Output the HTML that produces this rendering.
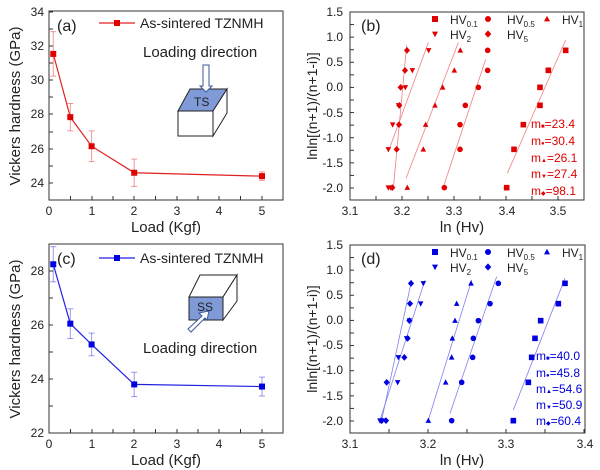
<!DOCTYPE html>
<html><head><meta charset="utf-8"><style>
html,body{margin:0;padding:0;background:#fff;}
svg{display:block;font-family:"Liberation Sans",Arial,sans-serif;}
</style></head><body>
<svg id="s" width="600" height="470" viewBox="0 0 600 470" xmlns="http://www.w3.org/2000/svg">
<!-- Panel a -->
<rect x="49" y="11" width="234" height="189" fill="none" stroke="#333" stroke-width="1"/>
<g font-size="12" fill="#222" text-anchor="end">
<text x="44" y="16">34</text><text x="44" y="50">32</text><text x="44" y="84">30</text><text x="44" y="118">28</text><text x="44" y="153">26</text><text x="44" y="187">24</text>
</g>
<g font-size="12" fill="#222" text-anchor="middle">
<text x="49" y="215">0</text><text x="92" y="215">1</text><text x="134" y="215">2</text><text x="177" y="215">3</text><text x="219" y="215">4</text><text x="262" y="215">5</text>
</g>
<text x="166" y="232" font-size="15" text-anchor="middle" fill="#222">Load (Kgf)</text>
<text transform="translate(20,106) rotate(-90)" font-size="15" text-anchor="middle" fill="#222">Vickers hardness (GPa)</text>
<text x="57" y="31" font-size="16" fill="#222">(a)</text>
<line x1="99" y1="23" x2="135" y2="23" stroke="#e02020" stroke-width="1.2"/><rect x="114" y="20" width="6" height="6" fill="#e00000"/>
<text x="140" y="28" font-size="14" fill="#222">As-sintered TZNMH</text>
<text x="143" y="57" font-size="15" fill="#222">Loading direction</text>
<polygon points="178,111 190,89 227,89 213,111" fill="#7f9ad6" stroke="#222"/>
<rect x="178" y="111" width="35" height="25" fill="#fff" stroke="#222"/>
<polygon points="213,111 227,89 227,113 213,136" fill="#fff" stroke="#222"/>
<text x="194" y="106" font-size="12" fill="#222">TS</text>
<polygon points="203,65 209,65 209,86 212,86 206,92 200,86 203,86" fill="#fff" stroke="#3d5a9a" stroke-width="1"/>
<!-- Panel c -->
<rect x="49" y="244" width="234" height="189" fill="none" stroke="#333" stroke-width="1"/>
<g font-size="12" fill="#222" text-anchor="end">
<text x="44" y="275">28</text><text x="44" y="329">26</text><text x="44" y="383">24</text><text x="44" y="437">22</text>
</g>
<g font-size="12" fill="#222" text-anchor="middle">
<text x="49" y="448">0</text><text x="92" y="448">1</text><text x="134" y="448">2</text><text x="177" y="448">3</text><text x="219" y="448">4</text><text x="262" y="448">5</text>
</g>
<text x="166" y="465" font-size="15" text-anchor="middle" fill="#222">Load (Kgf)</text>
<text transform="translate(20,339) rotate(-90)" font-size="15" text-anchor="middle" fill="#222">Vickers hardness (GPa)</text>
<text x="57" y="264" font-size="16" fill="#222">(c)</text>
<line x1="99" y1="258" x2="135" y2="258" stroke="#2020e0" stroke-width="1.2"/><rect x="114" y="255" width="6" height="6" fill="#0000e0"/>
<text x="140" y="263" font-size="14" fill="#222">As-sintered TZNMH</text>
<polygon points="189,297 200,275 237,275 223,297" fill="#fff" stroke="#222"/>
<rect x="189" y="297" width="34" height="23" fill="#7f9ad6" stroke="#222"/>
<polygon points="223,297 237,275 237,301 223,320" fill="#fff" stroke="#222"/>
<text x="197" y="311" font-size="12" fill="#222">SS</text>
<polygon points="188,329 202,316 199,313 209,311 207,320 205,318 191,332" fill="#fff" stroke="#3d5a9a"/>
<text x="143" y="353" font-size="15" fill="#222">Loading direction</text>
<!-- Panel b -->
<rect x="350" y="12" width="234" height="188" fill="none" stroke="#333" stroke-width="1"/>
<g font-size="12" fill="#222" text-anchor="end">
<text x="343" y="16">1.5</text><text x="343" y="41">1.0</text><text x="343" y="66">0.5</text><text x="343" y="91">0.0</text><text x="343" y="117">-0.5</text><text x="343" y="142">-1.0</text><text x="343" y="167">-1.5</text><text x="343" y="192">-2.0</text>
</g>
<g font-size="12" fill="#222" text-anchor="middle">
<text x="350" y="215">3.1</text><text x="402" y="215">3.2</text><text x="454" y="215">3.3</text><text x="507" y="215">3.4</text><text x="558" y="215">3.5</text>
</g>
<text x="462" y="232" font-size="15" text-anchor="middle" fill="#222">ln (Hv)</text>
<text transform="translate(317,106) rotate(-90)" font-size="14" text-anchor="middle" fill="#222">lnln[(n+1)/(n+1-i)]</text>
<text x="361" y="31" font-size="16" fill="#222">(b)</text>
<g font-size="12" fill="#e00000">
<text x="531" y="128">m<tspan font-size="6">■</tspan>=23.4</text>
<text x="531" y="145">m<tspan font-size="6">●</tspan>=30.4</text>
<text x="531" y="162">m<tspan font-size="6">▲</tspan>=26.1</text>
<text x="531" y="178">m<tspan font-size="6">▼</tspan>=27.4</text>
<text x="531" y="195">m<tspan font-size="6">◆</tspan>=98.1</text>
</g>
<g font-size="12" fill="#222">
<text x="450" y="24">HV<tspan font-size="8" dy="3">0.1</tspan></text>
<text x="507" y="24">HV<tspan font-size="8" dy="3">0.5</tspan></text>
<text x="562" y="24">HV<tspan font-size="8" dy="3">1</tspan></text>
<text x="450" y="39">HV<tspan font-size="8" dy="3">2</tspan></text>
<text x="507" y="39">HV<tspan font-size="8" dy="3">5</tspan></text>
</g>
<!-- Panel d -->
<rect x="350" y="245" width="235" height="188" fill="none" stroke="#333" stroke-width="1"/>
<g font-size="12" fill="#222" text-anchor="end">
<text x="343" y="249">1.5</text><text x="343" y="274">1.0</text><text x="343" y="299">0.5</text><text x="343" y="324">0.0</text><text x="343" y="349">-0.5</text><text x="343" y="374">-1.0</text><text x="343" y="400">-1.5</text><text x="343" y="425">-2.0</text>
</g>
<g font-size="12" fill="#222" text-anchor="middle">
<text x="350" y="448">3.1</text><text x="428" y="448">3.2</text><text x="506" y="448">3.3</text><text x="585" y="448">3.4</text>
</g>
<text x="462" y="465" font-size="15" text-anchor="middle" fill="#222">ln (Hv)</text>
<text transform="translate(317,339) rotate(-90)" font-size="14" text-anchor="middle" fill="#222">lnln[(n+1)/(n+1-i)]</text>
<text x="361" y="264" font-size="16" fill="#222">(d)</text>
<g font-size="12" fill="#0000e0">
<text x="536" y="360">m<tspan font-size="6">■</tspan>=40.0</text>
<text x="536" y="377">m<tspan font-size="6">●</tspan>=45.8</text>
<text x="536" y="393">m<tspan font-size="6">▲</tspan>=54.6</text>
<text x="536" y="409">m<tspan font-size="6">▼</tspan>=50.9</text>
<text x="536" y="425">m<tspan font-size="6">◆</tspan>=60.4</text>
</g>
<g font-size="12" fill="#222">
<text x="450" y="257">HV<tspan font-size="8" dy="3">0.1</tspan></text>
<text x="507" y="257">HV<tspan font-size="8" dy="3">0.5</tspan></text>
<text x="562" y="257">HV<tspan font-size="8" dy="3">1</tspan></text>
<text x="450" y="272">HV<tspan font-size="8" dy="3">2</tspan></text>
<text x="507" y="272">HV<tspan font-size="8" dy="3">5</tspan></text>
</g>
<g id="dyn"></g>
</svg>
<script>
var NS="http://www.w3.org/2000/svg",g=document.getElementById("dyn");
function el(t,a){var e=document.createElementNS(NS,t);for(var k in a)e.setAttribute(k,a[k]);g.appendChild(e);return e;}
function mk(type,x,y,c,s){s=s||3;
 if(type=="s")el("rect",{x:x-s,y:y-s,width:2*s,height:2*s,fill:c});
 else if(type=="c")el("circle",{cx:x,cy:y,r:s,fill:c});
 else if(type=="u")el("polygon",{points:(x-s)+","+(y+s*0.8)+" "+(x+s)+","+(y+s*0.8)+" "+x+","+(y-s*1.1),fill:c});
 else if(type=="d")el("polygon",{points:(x-s)+","+(y-s*0.8)+" "+(x+s)+","+(y-s*0.8)+" "+x+","+(y+s*1.1),fill:c});
 else if(type=="r")el("polygon",{points:x+","+(y-s*1.2)+" "+(x+s*1.1)+","+y+" "+x+","+(y+s*1.2)+" "+(x-s*1.1)+","+y,fill:c});}
function ticks(x0,y0,x1,y1,xs,ys){
 xs.forEach(function(x){el("line",{x1:x,y1:y1,x2:x,y2:y1-4,stroke:"#333"});});
 ys.forEach(function(y){el("line",{x1:x0,y1:y,x2:x0+4,y2:y,stroke:"#333"});});}
var xa=[49,70.5,92,113,134,155.5,177,198,219,240.5,262];
ticks(49,11,283,200,xa,[12,29,46,63,80,97,114,132,149,166,183]);
ticks(49,244,283,433,xa,[244,271,298,325,352,379,406,433]);
function ser(pts,c,yb,k,ybase){var d="";pts.forEach(function(p,i){var x=49+42.6*p[0],y=yb-(p[1]-ybase)*k;d+=(i?"L":"M")+x+","+y;});
 pts.forEach(function(p){var x=49+42.6*p[0],y=yb-(p[1]-ybase)*k,e=p[2]*k;
  el("line",{x1:x,y1:y-e,x2:x,y2:y+e,stroke:c,"stroke-opacity":0.45});
  el("line",{x1:x-3,y1:y-e,x2:x+3,y2:y-e,stroke:c,"stroke-opacity":0.45});
  el("line",{x1:x-3,y1:y+e,x2:x+3,y2:y+e,stroke:c,"stroke-opacity":0.45});});
 el("path",{d:d,fill:"none",stroke:c,"stroke-width":1.2});
 pts.forEach(function(p){mk("s",49+42.6*p[0],yb-(p[1]-ybase)*k,c==="#e02020"?"#e00000":"#0000e0");});}
ser([[0.1,31.55,1.3],[0.5,27.85,0.8],[1,26.15,0.9],[2,24.6,0.8],[5,24.4,0.25]],"#e02020",183,17.1,24);
ser([[0.1,28.25,0.65],[0.5,26.05,0.55],[1,25.28,0.42],[2,23.8,0.45],[5,23.72,0.35]],"#2020e0",433,27,22);
var yb=[],yd=[];for(var i=0;i<15;i++){yb.push(12+i*12.57);yd.push(245+i*12.57);}
var xb=[];for(var i=0;i<10;i++)xb.push(350+i*26);
ticks(350,12,584,200,xb,yb);
var xd=[];for(var i=0;i<7;i++)xd.push(350+i*39);
ticks(350,245,585,433,xd,yd);
function wb(off,levels,sets,c,lc){
 sets.forEach(function(s){
  el("line",{x1:300+s.l[0]/3,y1:off+s.l[1]/3,x2:300+s.l[2]/3,y2:off+s.l[3]/3,stroke:lc,"stroke-width":0.8});
  s.x.forEach(function(x,i){mk(s.t,300+x/3,off+levels[i]/3,c,2.8);});
  if(s.extra)s.extra.forEach(function(x){mk(s.t,300+x/3,off+levels[0]/3,c,2.8);});});}
var Lb=[563,448,374,316,262,211,151];
wb(0,Lb,[
 {t:"s",x:[620,642,670,720,720,745,797],l:[622,520,797,120]},
 {t:"c",x:[433,480,480,496,535,563,563],l:[432,555,557,178]},
 {t:"u",x:[322,370,377,405,428,463,481],l:[318,535,475,128]},
 {t:"d",x:[265,265,278,296,316,337,386],l:[265,455,385,128],extra:[272]},
 {t:"r",x:[277,290,297,298,302,315,321],l:[280,565,320,135]}
],"#e00000","#f08080");
var Ld=[572,457,382,325,272,221,160];
wb(230,Ld,[
 {t:"s",x:[640,685,695,705,722,775,795],l:[640,540,795,145]},
 {t:"c",x:[455,485,518,520,535,570,595],l:[450,550,590,140]},
 {t:"u",x:[385,437,455,457,465,470,513],l:[385,570,515,150]},
 {t:"d",x:[240,293,295,320,328,362,370],l:[240,570,375,150],extra:[247]},
 {t:"r",x:[258,260,313,323,328,330,333],l:[245,570,335,150],extra:[245]}
],"#0000e0","#8080f0");
[[0,"#e00000"],[233,"#0000e0"]].forEach(function(o){var y=o[0];
 mk("s",435,19+y,o[1],3);mk("c",488,19+y,o[1],3);mk("u",547,19+y,o[1],3);
 mk("d",435,34+y,o[1],3);mk("r",488,34+y,o[1],3);});
</script>
</body></html>
